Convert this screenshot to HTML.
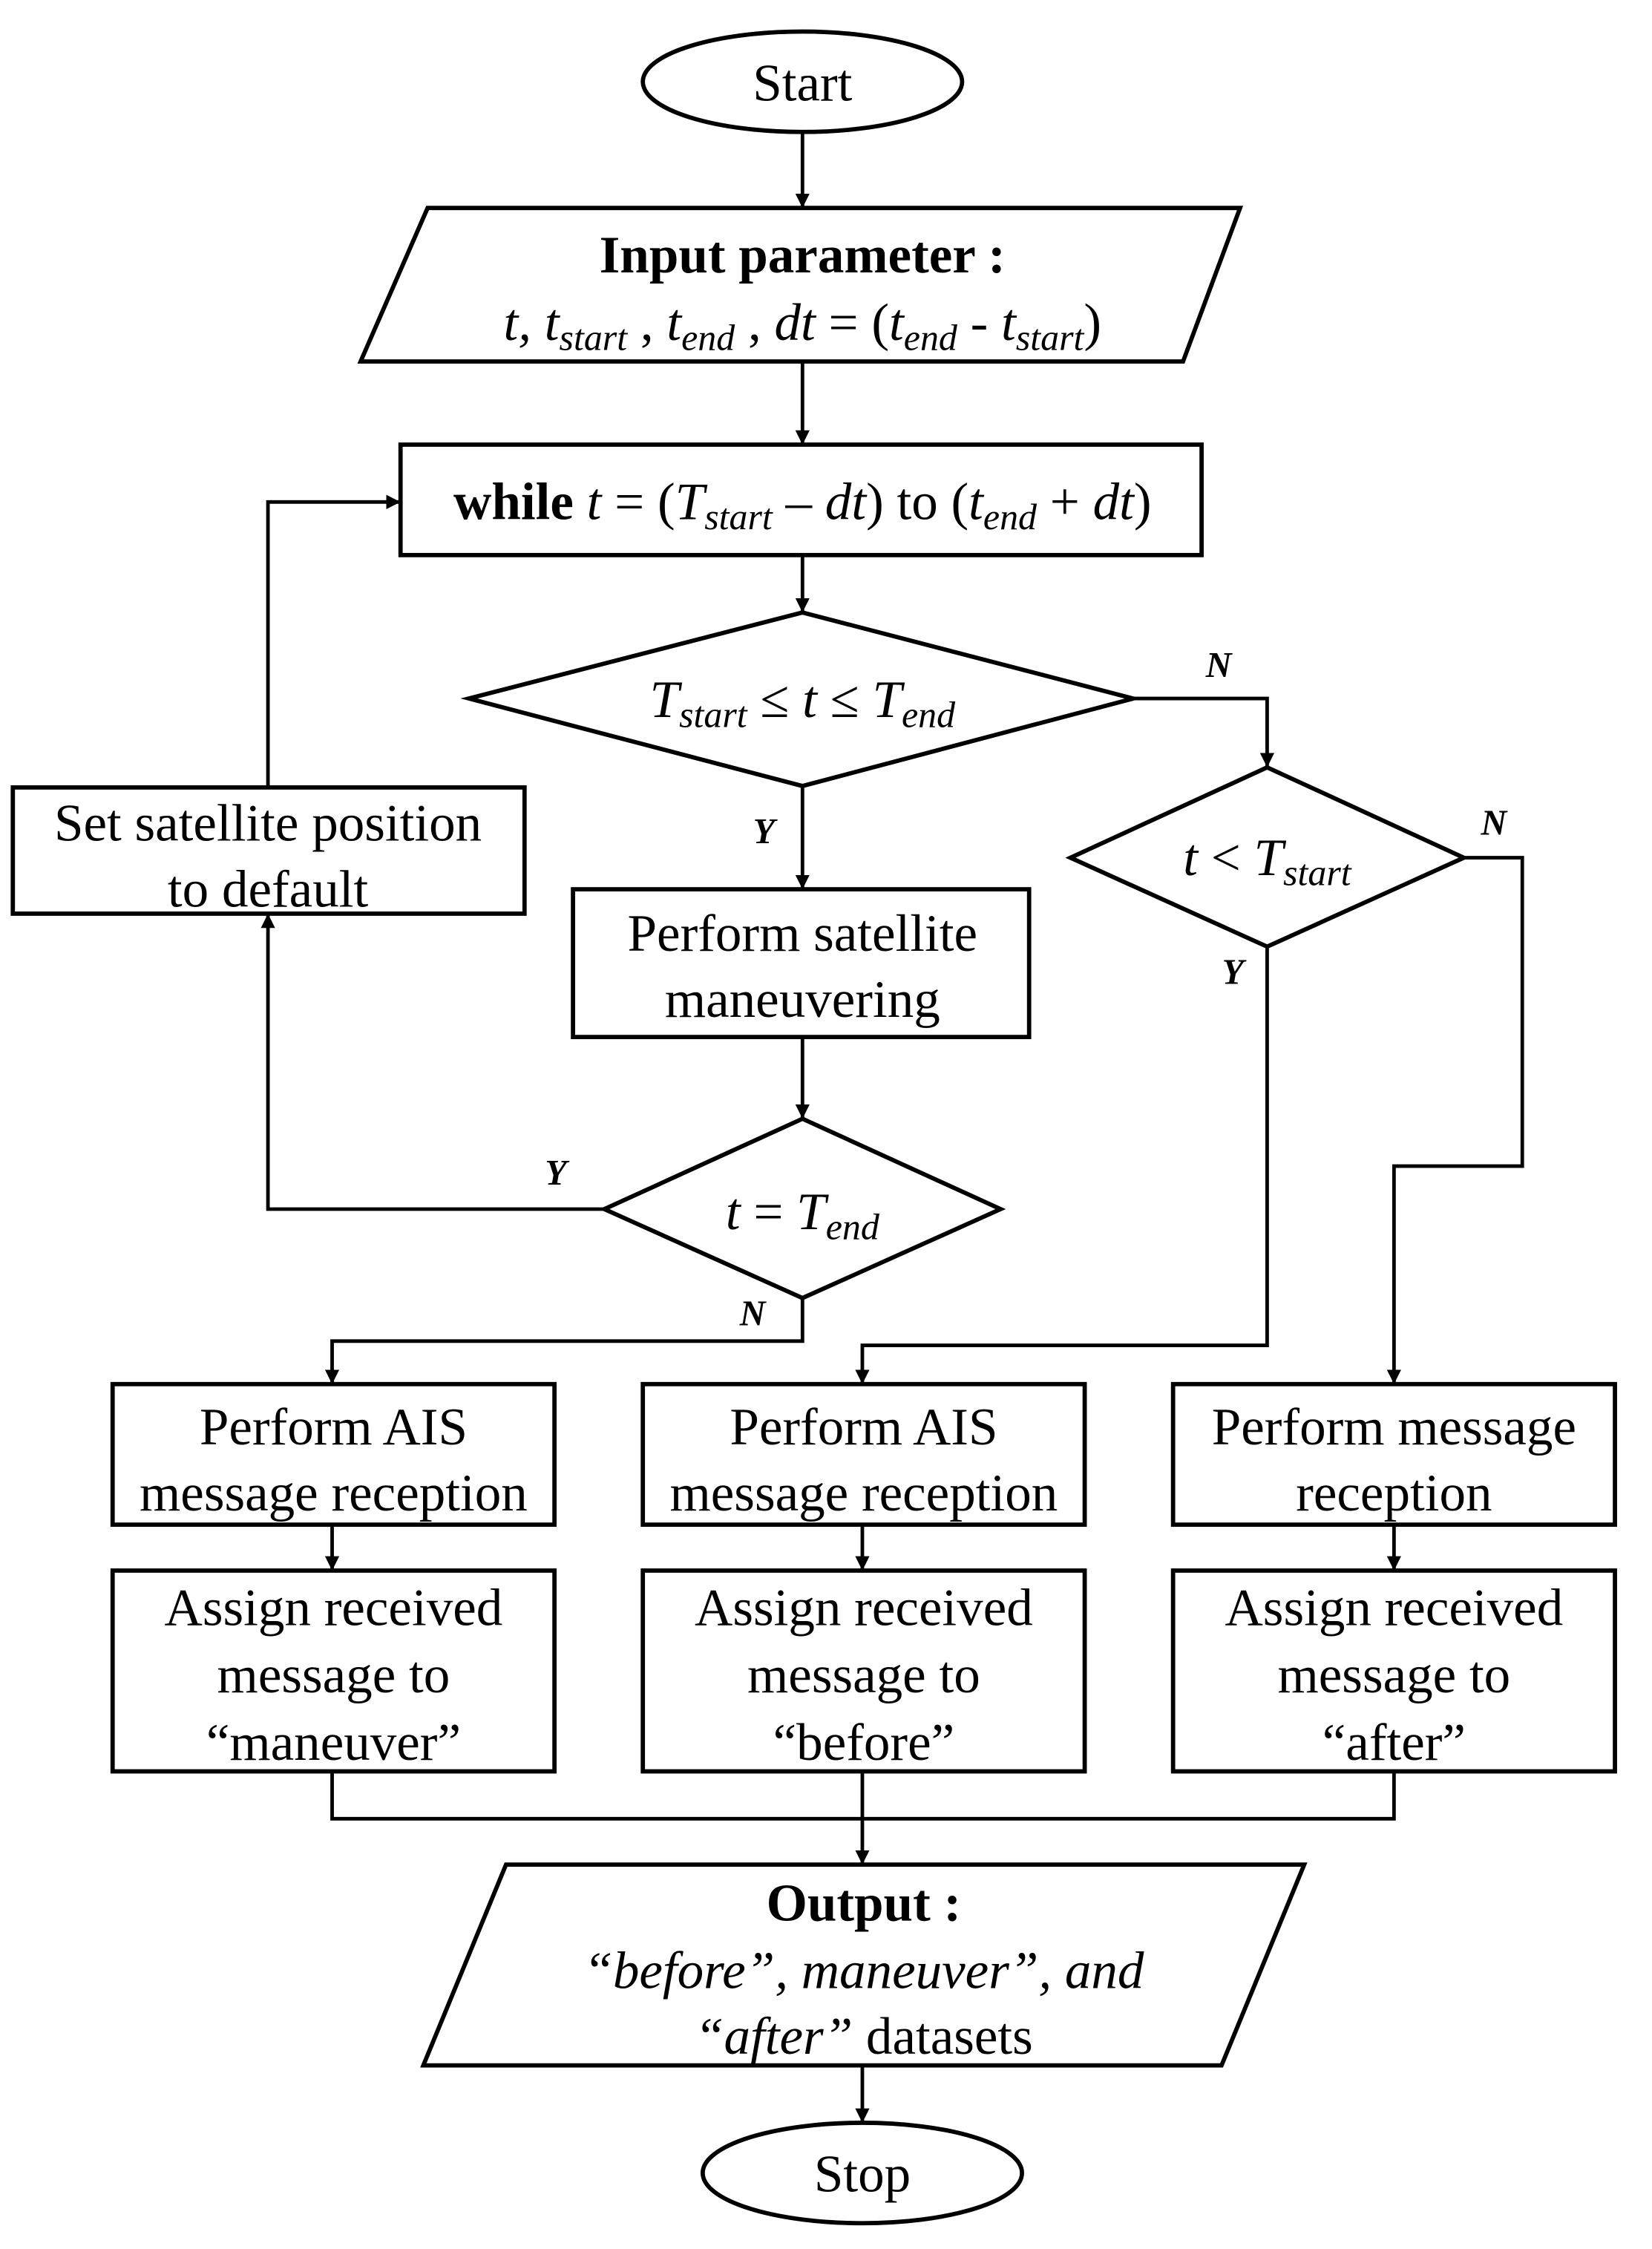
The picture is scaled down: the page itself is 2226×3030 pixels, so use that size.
<!DOCTYPE html>
<html><head><meta charset="utf-8"><style>html,body{margin:0;padding:0;background:#fff}svg{display:block}</style></head>
<body>
<svg width="2226" height="3030" viewBox="0 0 1159 1568" preserveAspectRatio="none" xmlns="http://www.w3.org/2000/svg" font-family="Liberation Serif, serif">
<defs><marker id="a" markerWidth="10" markerHeight="10" refX="9" refY="5" orient="auto" markerUnits="userSpaceOnUse"><path d="M0,0 L10,5 L0,10 z" fill="#000"/></marker></defs>
<g fill="none" stroke="#000" stroke-width="3">
<ellipse cx="563" cy="57" rx="112" ry="35"/>
<polygon points="300,145 870,145 830,252 253,252"/>
<rect x="281" y="310" width="562" height="77"/>
<polygon points="563,427 795,487 563,548 329,487"/>
<polygon points="889,535 1027,598 889,660 751,598"/>
<rect x="402" y="620" width="320" height="103"/>
<polygon points="563,780 702,843 563,905 424,843"/>
<rect x="9" y="549" width="359" height="88"/>
<rect x="79" y="965" width="310" height="98"/>
<rect x="451" y="965" width="310" height="98"/>
<rect x="823" y="965" width="310" height="98"/>
<rect x="79" y="1095" width="310" height="140"/>
<rect x="451" y="1095" width="310" height="140"/>
<rect x="823" y="1095" width="310" height="140"/>
<polygon points="355,1300 915,1300 857,1440 297,1440"/>
<ellipse cx="605" cy="1515" rx="112" ry="35"/>
</g>
<g fill="none" stroke="#000" stroke-width="2.5" marker-end="url(#a)">
<path d="M563,92 V144"/>
<path d="M563,252 V309"/>
<path d="M563,387 V426"/>
<path d="M795,487 H889 V534"/>
<path d="M563,548 V619"/>
<path d="M563,723 V779"/>
<path d="M424,843 H188 V638"/>
<path d="M188,549 V350 H280"/>
<path d="M563,905 V935 H233 V964"/>
<path d="M889,660 V938 H605 V964"/>
<path d="M1027,598 H1068 V813 H978 V964"/>
<path d="M233,1063 V1094"/>
<path d="M605,1063 V1094"/>
<path d="M978,1063 V1094"/>
<path d="M605,1235 V1299"/>
<path d="M605,1440 V1479"/>
</g>
<path d="M233,1235 V1268 H978 V1235" fill="none" stroke="#000" stroke-width="2.5"/>
<g font-size="37" text-anchor="middle" fill="#000">
<text x="563" y="70">Start</text>
<text x="563" y="190" font-weight="bold">Input parameter :</text>
<text x="563" y="237"><tspan font-style="italic">t, t</tspan><tspan font-style="italic" font-size="26" dy="7">start</tspan><tspan dy="-7"> , </tspan><tspan font-style="italic">t</tspan><tspan font-style="italic" font-size="26" dy="7">end</tspan><tspan dy="-7"> , </tspan><tspan font-style="italic">dt</tspan> = (<tspan font-style="italic">t</tspan><tspan font-style="italic" font-size="26" dy="7">end</tspan><tspan dy="-7"> - </tspan><tspan font-style="italic">t</tspan><tspan font-style="italic" font-size="26" dy="7">start</tspan><tspan dy="-7">)</tspan></text>
<text x="563" y="362"><tspan font-weight="bold">while</tspan> <tspan font-style="italic">t</tspan> = (<tspan font-style="italic">T</tspan><tspan font-style="italic" font-size="26" dy="7">start</tspan><tspan dy="-7"> – </tspan><tspan font-style="italic">dt</tspan>)  to (<tspan font-style="italic">t</tspan><tspan font-style="italic" font-size="26" dy="7">end</tspan><tspan dy="-7"> + </tspan><tspan font-style="italic">dt</tspan>)</text>
<text x="563" y="500"><tspan font-style="italic">T</tspan><tspan font-style="italic" font-size="26" dy="7">start</tspan><tspan dy="-7">  ≤ </tspan><tspan font-style="italic">t</tspan> ≤ <tspan font-style="italic">T</tspan><tspan font-style="italic" font-size="26" dy="7">end</tspan></text>
<text x="889" y="610"><tspan font-style="italic">t</tspan> &lt; <tspan font-style="italic">T</tspan><tspan font-style="italic" font-size="26" dy="7">start</tspan></text>
<text x="563" y="857"><tspan font-style="italic">t</tspan> = <tspan font-style="italic">T</tspan><tspan font-style="italic" font-size="26" dy="7">end</tspan></text>
<text x="563" y="663">Perform satellite</text>
<text x="563" y="709">maneuvering</text>
<text x="188" y="586">Set satellite position</text>
<text x="188" y="632">to default</text>
<text x="234" y="1007">Perform AIS</text>
<text x="234" y="1053">message reception</text>
<text x="606" y="1007">Perform AIS</text>
<text x="606" y="1053">message reception</text>
<text x="978" y="1007">Perform message</text>
<text x="978" y="1053">reception</text>
<text x="234" y="1133">Assign received</text>
<text x="234" y="1180">message to</text>
<text x="234" y="1227">“maneuver”</text>
<text x="606" y="1133">Assign received</text>
<text x="606" y="1180">message to</text>
<text x="606" y="1227">“before”</text>
<text x="978" y="1133">Assign received</text>
<text x="978" y="1180">message to</text>
<text x="978" y="1227">“after”</text>
<text x="606" y="1339" font-weight="bold">Output :</text>
<text x="606" y="1386" font-style="italic">“before”, maneuver”, and</text>
<text x="606" y="1432"><tspan font-style="italic">“after”</tspan> datasets</text>
<text x="605" y="1528">Stop</text>
</g>
<g font-size="25" font-weight="bold" font-style="italic" text-anchor="middle" fill="#000">
<text x="855" y="472">N</text>
<text x="536" y="588">Y</text>
<text x="1048" y="582">N</text>
<text x="865" y="686">Y</text>
<text x="390" y="826">Y</text>
<text x="528" y="924">N</text>
</g>
</svg>
</body></html>
